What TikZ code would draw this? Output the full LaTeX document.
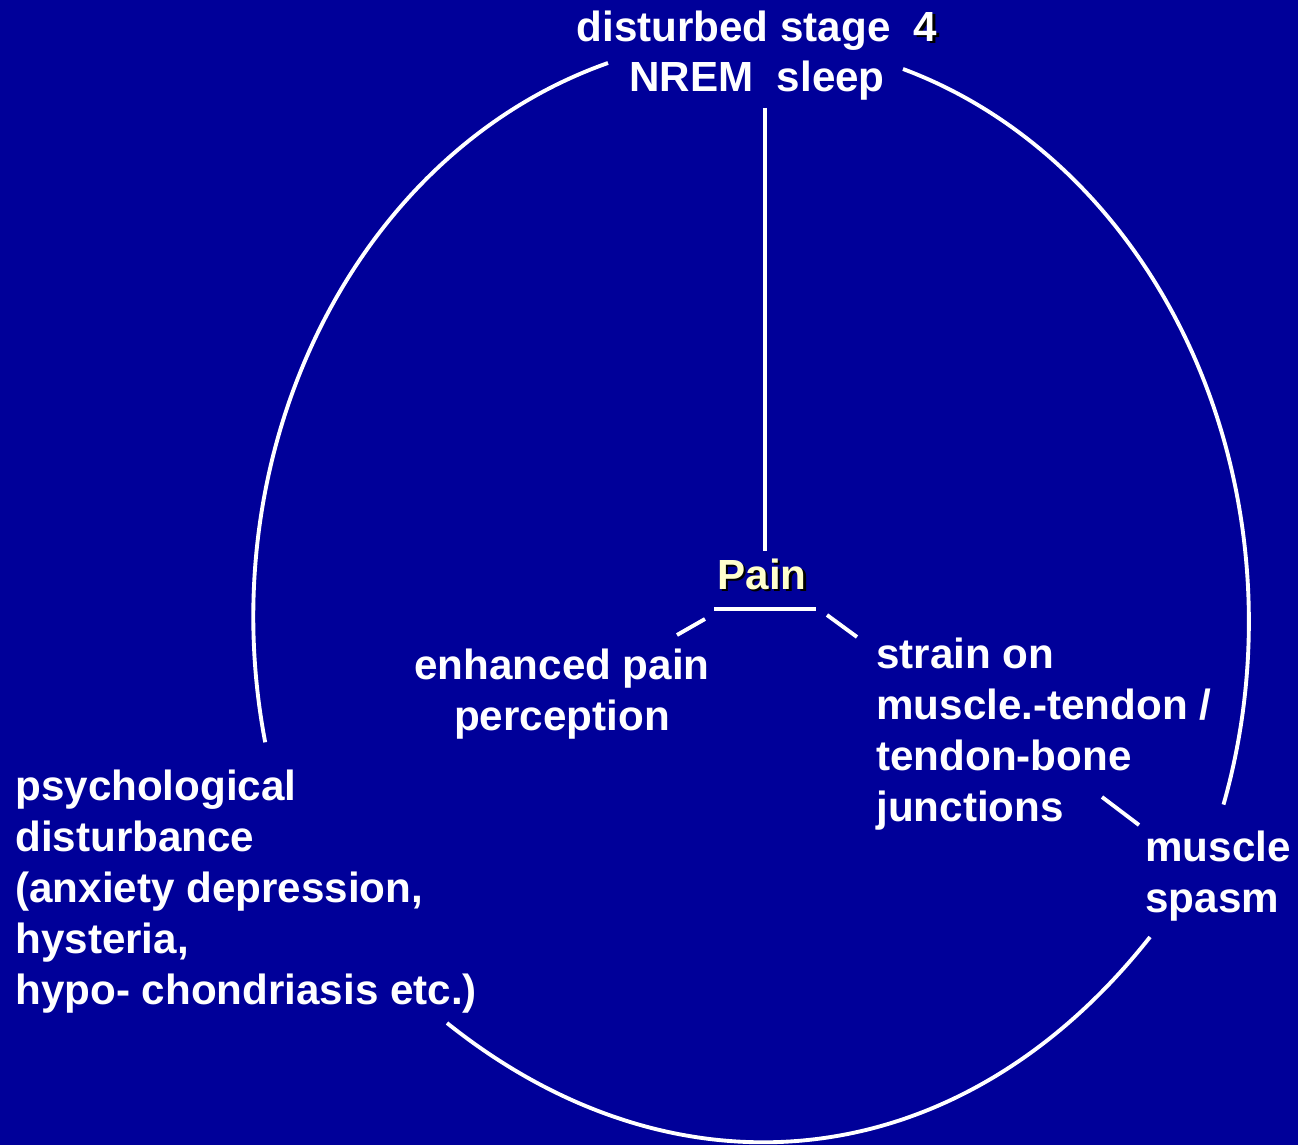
\documentclass[tikz,border=0pt]{standalone}
\usepackage{fontspec}
\setmainfont{Liberation Sans}
\usetikzlibrary{positioning}
\definecolor{bgBlue}{HTML}{000099}
\definecolor{painYellow}{HTML}{FFFFCC}
\newcommand{\shadowtext}[1]{\makebox[0pt][l]{\hspace{0.045cm}\raisebox{-0.045cm}{\color{black}#1}}#1}

\begin{document}
\begin{tikzpicture}[x=0.02cm, y=-0.02cm,
  lbl/.style={text=white, inner sep=0pt, font=\bfseries\fontsize{24}{29}\selectfont},
  link/.style={draw=white, line width=2.2pt},
  cycle/.style={draw=white, line width=2.2pt},
]
  \fill[bgBlue] (0,0) rectangle (1298,1145);
  \useasboundingbox (0,0) rectangle (1298,1145);

  % labels (base = baseline of the last line)
  \node[lbl, align=center, anchor=base] (sleep) at (757,92)
    {disturbed stage\ \ \shadowtext{4}\\NREM\ \ sleep};
  \node[lbl, text=painYellow, anchor=base] (pain) at (762,589) {\shadowtext{Pain}};
  \node[lbl, align=center, anchor=base] (perception) at (562,730)
    {enhanced pain\\perception};
  \node[lbl, align=left, anchor=base west] (strain) at (876,821)
    {strain on\\muscle.-tendon /\\tendon-bone\\junctions};
  \node[lbl, align=left, anchor=base west] (spasm) at (1145,912) {muscle\\spasm};
  \node[lbl, align=left, anchor=base west] (psych) at (15,1004)
    {psychological\\disturbance\\(anxiety depression,\\hysteria,\\hypo- chondriasis etc.)};

  % straight links
  \coordinate (sleepfoot) at (765,108);
  \coordinate (painhead) at (765,551);
  \coordinate (barL) at (714,609);
  \coordinate (barR) at (816,609);
  \draw[link] (sleepfoot) -- (painhead);
  \draw[link] (barL) -- (barR);
  \draw[link] (705,619) -- (677,635);
  \draw[link] (827,615) -- (857,637);
  \draw[link] (1102,797) -- (1139,825);

  % the cycle
  \coordinate (sleepL) at (608,63);
  \coordinate (sleepR) at (903,69);
  \coordinate (psychT) at (447,1023);
  \coordinate (spasmB) at (1150,937);
  \draw[cycle] (sleepL) arc[start angle=253.1, end angle=167.5,
    x radius=500, y radius=579];
  \draw[cycle] (sleepR) arc[start angle=-72.3, end angle=18.4,
    x radius=497, y radius=580];
  \draw[cycle] (psychT) .. controls (677,1207) and (960,1178) .. (spasmB);
\end{tikzpicture}
\end{document}
